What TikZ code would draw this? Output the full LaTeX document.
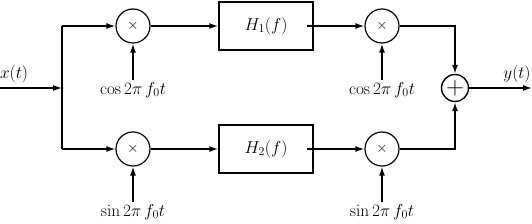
\documentclass[tikz,border=0pt]{standalone}
\usetikzlibrary{arrows.meta,calc}
\begin{document}
\begin{tikzpicture}[x=1pt,y=-1pt,
  every node/.style={font=\fontsize{17}{20}\selectfont},
  wire/.style={line width=1.5pt},
  arr/.style={wire,-{Latex[length=9pt,width=6pt]}},
  mult/.style={circle,draw,line width=1.2pt,minimum size=34pt,inner sep=0pt},
  summ/.style={circle,draw,line width=1.4pt,minimum size=27pt,inner sep=0pt},
  filt/.style={rectangle,draw,line width=1.5pt,minimum width=94pt,minimum height=48pt,inner sep=0pt},
  lbl/.style={inner sep=2pt}]
\useasboundingbox (0,0) rectangle (532,224);
\coordinate (in) at (0,88);
\coordinate (sp) at (62,88);
\coordinate (spt) at (62,26);
\coordinate (spb) at (62,149);
\node[mult] (m1) at (133,26) {\fontsize{15}{16}\selectfont$\times$};
\node[mult] (m2) at (133,149) {\fontsize{15}{16}\selectfont$\times$};
\node[filt] (h1) at (266,26) {$H_1(f)$};
\node[filt] (h2) at (266,149) {$H_2(f)$};
\node[mult] (m3) at (382,26) {\fontsize{15}{16}\selectfont$\times$};
\node[mult] (m4) at (382,149) {\fontsize{15}{16}\selectfont$\times$};
\node[summ] (s) at (455,88) {\fontsize{23}{24}\selectfont$+$};
\coordinate (out) at (532,88);
\coordinate (ct) at (455,26);
\coordinate (cb) at (455,149);
\node[lbl] (c1) at (133,90) {$\cos 2\pi\, f_0 t$};
\node[lbl] (s1) at (133,212) {$\sin 2\pi\, f_0 t$};
\node[lbl] (c2) at (382,90) {$\cos 2\pi\, f_0 t$};
\node[lbl] (s2) at (382,212) {$\sin 2\pi\, f_0 t$};
\node (xl) at (14,74) {$x(t)$};
\node (yl) at (517,74) {$y(t)$};
\draw[arr] (in) -- (sp);
\draw[wire] (spt) -- (spb);
\draw[arr] (spt) -- (m1.west);
\draw[arr] (spb) -- (m2.west);
\draw[arr] (m1.east) -- (h1.west);
\draw[arr] (m2.east) -- (h2.west);
\draw[arr] ($(h1.east)+(-7,0)$) -- (m3.west);
\draw[arr] ($(h2.east)+(-7,0)$) -- (m4.west);
\draw[arr] (m3.east) -- (ct) -- (s.north);
\draw[arr] (m4.east) -- (cb) -- (s.south);
\draw[arr] (s.east) -- (out);
\draw[arr] (c1.north) -- (m1.south);
\draw[arr] (s1.north) -- (m2.south);
\draw[arr] (c2.north) -- (m3.south);
\draw[arr] (s2.north) -- (m4.south);
\end{tikzpicture}
\end{document}
